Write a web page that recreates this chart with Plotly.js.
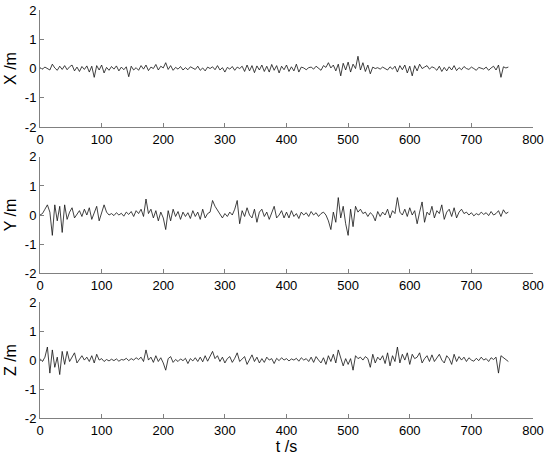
<!DOCTYPE html>
<html>
<head>
<meta charset="utf-8">
<script src="https://cdn.plot.ly/plotly-3.0.1.min.js"></script>
<style>html,body{margin:0;padding:0;background:#fff;}#chart{width:550px;height:458px;}</style>
</head>
<body>
<div id="chart"></div>
<script>
// Sampling step (s) for the series below
const timeStep = 4;

const xValues = [
  0.03,-0.02,0.05,0.0,-0.05,0.15,0.02,-0.06,0.08,-0.03,
  0.1,-0.04,0.06,0.12,-0.08,0.05,-0.1,0.07,-0.03,0.09,
  -0.12,0.08,-0.3,0.1,-0.05,0.12,-0.15,0.04,-0.06,0.07,
  -0.02,0.09,-0.08,0.05,-0.04,0.06,-0.28,0.08,-0.05,0.03,
  -0.06,0.1,-0.02,0.12,-0.07,0.05,0.0,0.14,-0.05,0.08,
  0.02,0.2,-0.03,0.1,-0.06,0.04,-0.02,0.07,-0.05,0.03,
  -0.04,0.06,0.0,-0.03,0.08,-0.06,0.02,-0.08,0.05,0.0,
  0.06,-0.04,0.1,-0.05,0.03,-0.12,0.04,-0.02,0.07,-0.06,
  0.05,0.0,0.08,-0.1,0.12,-0.08,0.1,-0.14,0.09,-0.05,
  0.12,-0.1,0.08,-0.12,0.14,-0.06,0.1,-0.15,0.08,-0.04,
  0.12,-0.1,0.06,-0.08,0.15,-0.12,0.05,0.02,-0.04,0.03,
  0.05,-0.02,0.08,0.0,-0.06,0.1,0.04,0.2,0.02,0.12,
  -0.08,0.15,-0.25,0.18,-0.05,0.22,-0.12,0.15,0.0,0.42,
  -0.05,0.2,-0.1,0.12,-0.18,0.05,0.0,0.03,-0.02,0.05,
  0.0,-0.05,0.06,-0.02,0.08,-0.12,0.1,-0.04,0.12,-0.15,
  0.08,-0.25,0.1,-0.08,0.15,0.0,0.05,0.1,-0.02,0.06,
  0.02,-0.06,0.08,-0.1,0.04,-0.08,0.06,-0.05,0.1,-0.07,
  0.03,-0.04,0.07,0.0,-0.03,0.05,0.0,-0.06,0.04,0.02,
  -0.02,0.05,-0.06,0.02,0.08,-0.05,0.12,-0.3,0.06,0.02,
  0.05
];

const yValues = [
  0.0,0.05,0.2,0.35,0.1,-0.7,0.35,-0.2,0.3,-0.6,
  0.35,-0.15,0.1,0.25,-0.1,0.05,0.15,-0.05,0.2,0.0,
  0.25,-0.15,0.05,0.3,-0.2,0.1,0.35,0.1,0.0,0.05,
  -0.02,0.08,0.0,0.06,-0.04,0.1,0.02,0.12,-0.05,0.15,
  0.05,0.2,-0.05,0.55,0.05,0.2,-0.1,0.15,-0.2,0.1,
  -0.1,-0.5,0.15,-0.2,0.2,-0.05,0.12,-0.15,0.1,-0.05,
  0.08,-0.12,0.15,-0.05,0.1,-0.15,0.2,-0.1,0.05,0.1,
  0.5,0.3,0.15,0.0,-0.1,0.05,-0.05,0.1,0.0,0.2,
  0.5,-0.3,0.15,-0.05,0.25,0.0,-0.1,0.2,-0.25,0.1,
  0.2,-0.05,0.1,-0.15,0.05,0.3,-0.1,0.0,0.15,-0.1,
  0.1,-0.1,0.15,-0.05,0.05,-0.12,0.1,0.0,0.08,-0.05,
  0.12,0.0,0.08,-0.05,0.05,0.1,0.0,-0.2,-0.5,0.1,
  -0.25,0.6,-0.1,0.3,-0.3,-0.7,0.2,-0.4,0.3,0.1,
  0.2,0.05,0.1,-0.05,0.08,0.0,-0.2,0.12,-0.05,0.1,
  0.0,0.2,-0.1,0.15,0.05,0.6,0.1,0.0,0.2,-0.05,
  0.25,0.0,0.15,-0.3,0.1,0.45,-0.25,0.1,0.0,0.3,
  -0.1,0.15,0.05,0.35,-0.15,0.1,0.2,-0.05,0.25,-0.1,
  0.1,0.2,0.05,0.1,0.0,0.08,-0.03,0.05,0.0,0.1,
  0.02,0.08,-0.02,0.12,0.0,0.05,0.15,-0.05,0.18,0.05,
  0.1
];

const zValues = [
  0.05,-0.05,0.1,0.45,-0.45,0.35,-0.25,0.1,-0.5,0.3,
  -0.15,0.3,-0.05,0.1,0.25,-0.1,0.05,0.15,0.0,0.1,
  -0.05,0.15,-0.1,0.2,0.0,0.05,-0.05,0.02,-0.03,0.03,
  -0.02,0.04,-0.04,0.02,0.0,0.06,-0.02,0.05,0.0,0.08,
  0.02,0.1,-0.05,0.35,0.0,0.1,-0.08,0.15,-0.05,0.08,
  -0.1,-0.35,0.05,0.12,-0.08,0.02,-0.05,0.04,-0.02,0.06,
  -0.12,0.05,-0.03,0.08,-0.05,0.1,-0.06,0.15,-0.04,0.12,
  0.3,0.05,0.15,-0.05,0.1,-0.1,0.05,0.12,-0.08,0.06,
  0.25,-0.05,0.05,0.12,-0.15,0.0,0.18,-0.05,0.1,-0.1,
  0.05,-0.08,0.1,0.0,0.05,-0.12,0.06,-0.02,0.08,0.0,
  0.05,-0.03,0.04,0.0,0.06,-0.04,0.08,0.0,0.05,-0.05,
  0.1,-0.08,0.12,0.0,-0.1,0.08,-0.15,0.15,-0.05,0.2,
  -0.1,0.35,0.1,-0.2,0.05,-0.15,0.05,-0.35,0.15,0.05,
  0.1,0.0,0.12,0.05,-0.25,0.2,-0.1,0.1,0.0,0.15,
  -0.12,0.25,-0.2,0.15,-0.05,0.45,-0.1,0.2,0.0,0.25,
  -0.15,0.2,0.05,0.1,0.25,-0.1,0.05,0.15,-0.05,0.18,
  -0.05,0.1,0.2,0.0,-0.1,0.15,0.05,-0.15,0.2,-0.05,
  0.12,0.0,0.1,-0.05,0.08,0.0,-0.04,0.06,-0.02,0.1,
  0.0,0.05,-0.05,0.08,0.02,0.1,-0.45,0.15,0.08,0.0,
  -0.05
];

const xTickVals = [0,100,200,300,400,500,600,700,800];
const yTickVals = [-2,-1,0,1,2];
const yTickText = ["-2","-1","0","1","2"];
const yTitles = ["X /m","Y /m","Z /m"];
const xTitle = "t /s";

const times = xValues.map((_, i) => i * timeStep);
const series = [xValues, yValues, zValues];

const traces = series.map((vals, i) => ({
  x: times,
  y: vals,
  type: 'scatter',
  mode: 'lines',
  line: {color: '#111', width: 0.8},
  xaxis: i === 0 ? 'x' : 'x' + (i + 1),
  yaxis: i === 0 ? 'y' : 'y' + (i + 1),
  hoverinfo: 'skip'
}));

const font = {family: 'Arial, "Liberation Sans", sans-serif', size: 13, color: '#000'};
const titleFont = {family: font.family, size: 16, color: '#000'};
const domains = [[0.713, 1.0], [0.355, 0.640], [0.0, 0.284]];

function xAxis(i) {
  const ax = {
    range: [0, 800], tickvals: xTickVals, ticks: 'inside', ticklen: 4,
    tickcolor: '#808080', showline: true, linecolor: '#808080', linewidth: 1,
    showgrid: false, zeroline: false, tickfont: font,
    anchor: i === 0 ? 'y' : 'y' + (i + 1), domain: [0, 1]
  };
  if (i === 2) ax.title = {text: xTitle, font: titleFont, standoff: 4};
  return ax;
}
function yAxis(i) {
  return {
    range: [-2, 2], tickvals: yTickVals, ticktext: yTickText, ticks: 'inside', ticklen: 4,
    tickcolor: '#808080', showline: true, linecolor: '#808080', linewidth: 1,
    showgrid: false, zeroline: false, tickfont: font,
    anchor: i === 0 ? 'x' : 'x' + (i + 1), domain: domains[i],
    title: {text: yTitles[i], font: titleFont, standoff: 4}
  };
}

const layout = {
  width: 550, height: 458,
  margin: {l: 40, r: 17, t: 10, b: 40},
  paper_bgcolor: '#fff', plot_bgcolor: '#fff',
  showlegend: false,
  font: font
};
for (let i = 0; i < 3; i++) {
  const s = i === 0 ? '' : String(i + 1);
  layout['xaxis' + s] = xAxis(i);
  layout['yaxis' + s] = yAxis(i);
}

Plotly.newPlot('chart', traces, layout, {displayModeBar: false, staticPlot: true});
</script>
</body>
</html>
